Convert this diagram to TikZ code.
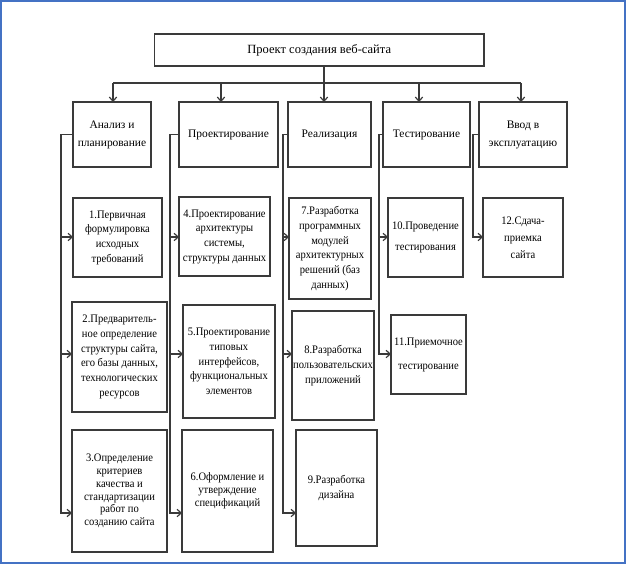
\documentclass[tikz,border=0pt]{standalone}
\usepackage{fontspec}
\setmainfont{Liberation Serif}
\newfontfamily\narrowfont[FakeStretch=0.92]{Liberation Serif}
\usetikzlibrary{arrows.meta}
\definecolor{frameblue}{RGB}{68,114,196}
\definecolor{ln}{RGB}{58,58,58}
\newcommand\mybox[7][11pt]{\node[box,font=\narrowfont\fontsize{8.6pt}{#1}\selectfont,minimum width={(#5-#3)*0.75pt},minimum height={(#6-#4)*0.75pt}] (#2) at ({(#3+#5)/2},{(#4+#6)/2}) {#7};}
\newcommand\headbox[7][11pt]{\node[box,font=\fontsize{8.6pt}{#1}\selectfont,minimum width={(#5-#3)*0.75pt},minimum height={(#6-#4)*0.75pt}] (#2) at ({(#3+#5)/2},{(#4+#6)/2}) {#7};}
\begin{document}
\begin{tikzpicture}[x=0.75pt,y=-0.75pt,
  box/.style={draw=ln,line width=0.9pt,inner sep=0pt,outer sep=0pt,align=center,text=black},
  line/.style={draw=ln,line width=0.9pt},
  arr/.style={line,-{Straight Barb[length=3pt,width=5.5pt]}}]
\useasboundingbox (0,0) rectangle (626,564);
\draw[frameblue,line width=1.5pt] (1,1) rectangle (624.5,563);

% top
\node[box,font=\fontsize{9.4pt}{11pt}\selectfont,minimum width={329.5*0.75pt},minimum height={32*0.75pt}] (top) at (319.25,50) {Проект создания веб-сайта};
% level 1
\headbox[13.5pt]{an}{73}{102}{151}{167}{Анализ и\\планирование}
\headbox{pr}{179}{102}{278}{167}{Проектирование}
\headbox{re}{288}{102}{371}{167}{Реализация}
\headbox{te}{383}{102}{470}{167}{Тестирование}
\headbox[13.5pt]{vv}{479}{102}{567}{167}{Ввод в\\эксплуатацию}
% level 2
\mybox{b1}{73}{198}{162}{277}{1.Первичная\\формулировка\\исходных\\требований}
\mybox{b2}{72}{302}{167}{412}{2.Предваритель-\\ное определение\\структуры сайта,\\его базы данных,\\технологических\\ресурсов}
\mybox[9.6pt]{b3}{72}{430}{167}{552}{3.Определение\\критериев\\качества и\\стандартизации\\работ по\\созданию сайта}
\mybox{b4}{179}{197}{270}{276}{4.Проектирование\\архитектуры\\системы,\\структуры данных}
\mybox{b5}{183}{305}{275}{418}{5.Проектирование\\типовых\\интерфейсов,\\функциональных\\элементов}
\mybox[9.6pt]{b6}{182}{430}{273}{552}{6.Оформление и\\утверждение\\спецификаций}
\mybox{b7}{289}{198}{371}{299}{7.Разработка\\программных\\модулей\\архитектурных\\решений (баз\\данных)}
\mybox{b8}{292}{311}{374}{420}{8.Разработка\\пользовательских\\приложений}
\mybox{b9}{296}{430}{377}{546}{9.Разработка\\дизайна}
\mybox[16pt]{b10}{388}{198}{463}{277}{10.Проведение\\тестирования}
\mybox[18pt]{b11}{391}{315}{466}{394}{11.Приемочное\\тестирование}
\mybox[12.75pt]{b12}{483}{198}{563}{277}{12.Сдача-\\приемка\\сайта}

% helper coordinates
\coordinate (bus) at (0,83);
\coordinate (stem) at (324,0);
\coordinate (xa) at (113,0);
\coordinate (xp) at (221,0);
\coordinate (xt) at (419,0);
\coordinate (xv) at (521,0);
\coordinate (r1) at (0,237);
\coordinate (r2) at (0,354);
\coordinate (r3) at (0,513);
\coordinate (ca) at (61,0);
\coordinate (cp) at (170,0);
\coordinate (cr) at (283,0);
\coordinate (ct) at (379,0);
\coordinate (cv) at (473,0);

% top connectors
\draw[line] (xa |- bus) -- (xv |- bus);
\draw[arr] (top.south -| stem) -- (re.north -| stem);
\draw[arr] (xa |- bus) -- (an.north -| xa);
\draw[arr] (xp |- bus) -- (pr.north -| xp);
\draw[arr] (xt |- bus) -- (te.north -| xt);
\draw[arr] (xv |- bus) -- (vv.north -| xv);

% column connectors
\draw[arr] (an.west) -- (an.west -| ca) |- (b1.west |- r1);
\draw[arr] (an.west) -- (an.west -| ca) |- (b2.west |- r2);
\draw[arr] (an.west) -- (an.west -| ca) |- (b3.west |- r3);
\draw[arr] (pr.west) -- (pr.west -| cp) |- (b4.west |- r1);
\draw[arr] (pr.west) -- (pr.west -| cp) |- (b5.west |- r2);
\draw[arr] (pr.west) -- (pr.west -| cp) |- (b6.west |- r3);
\draw[arr] (re.west) -- (re.west -| cr) |- (b7.west |- r1);
\draw[arr] (re.west) -- (re.west -| cr) |- (b8.west |- r2);
\draw[arr] (re.west) -- (re.west -| cr) |- (b9.west |- r3);
\draw[arr] (te.west) -- (te.west -| ct) |- (b10.west |- r1);
\draw[arr] (te.west) -- (te.west -| ct) |- (b11.west |- r2);
\draw[arr] (vv.west) -- (vv.west -| cv) |- (b12.west |- r1);
\end{tikzpicture}
\end{document}
